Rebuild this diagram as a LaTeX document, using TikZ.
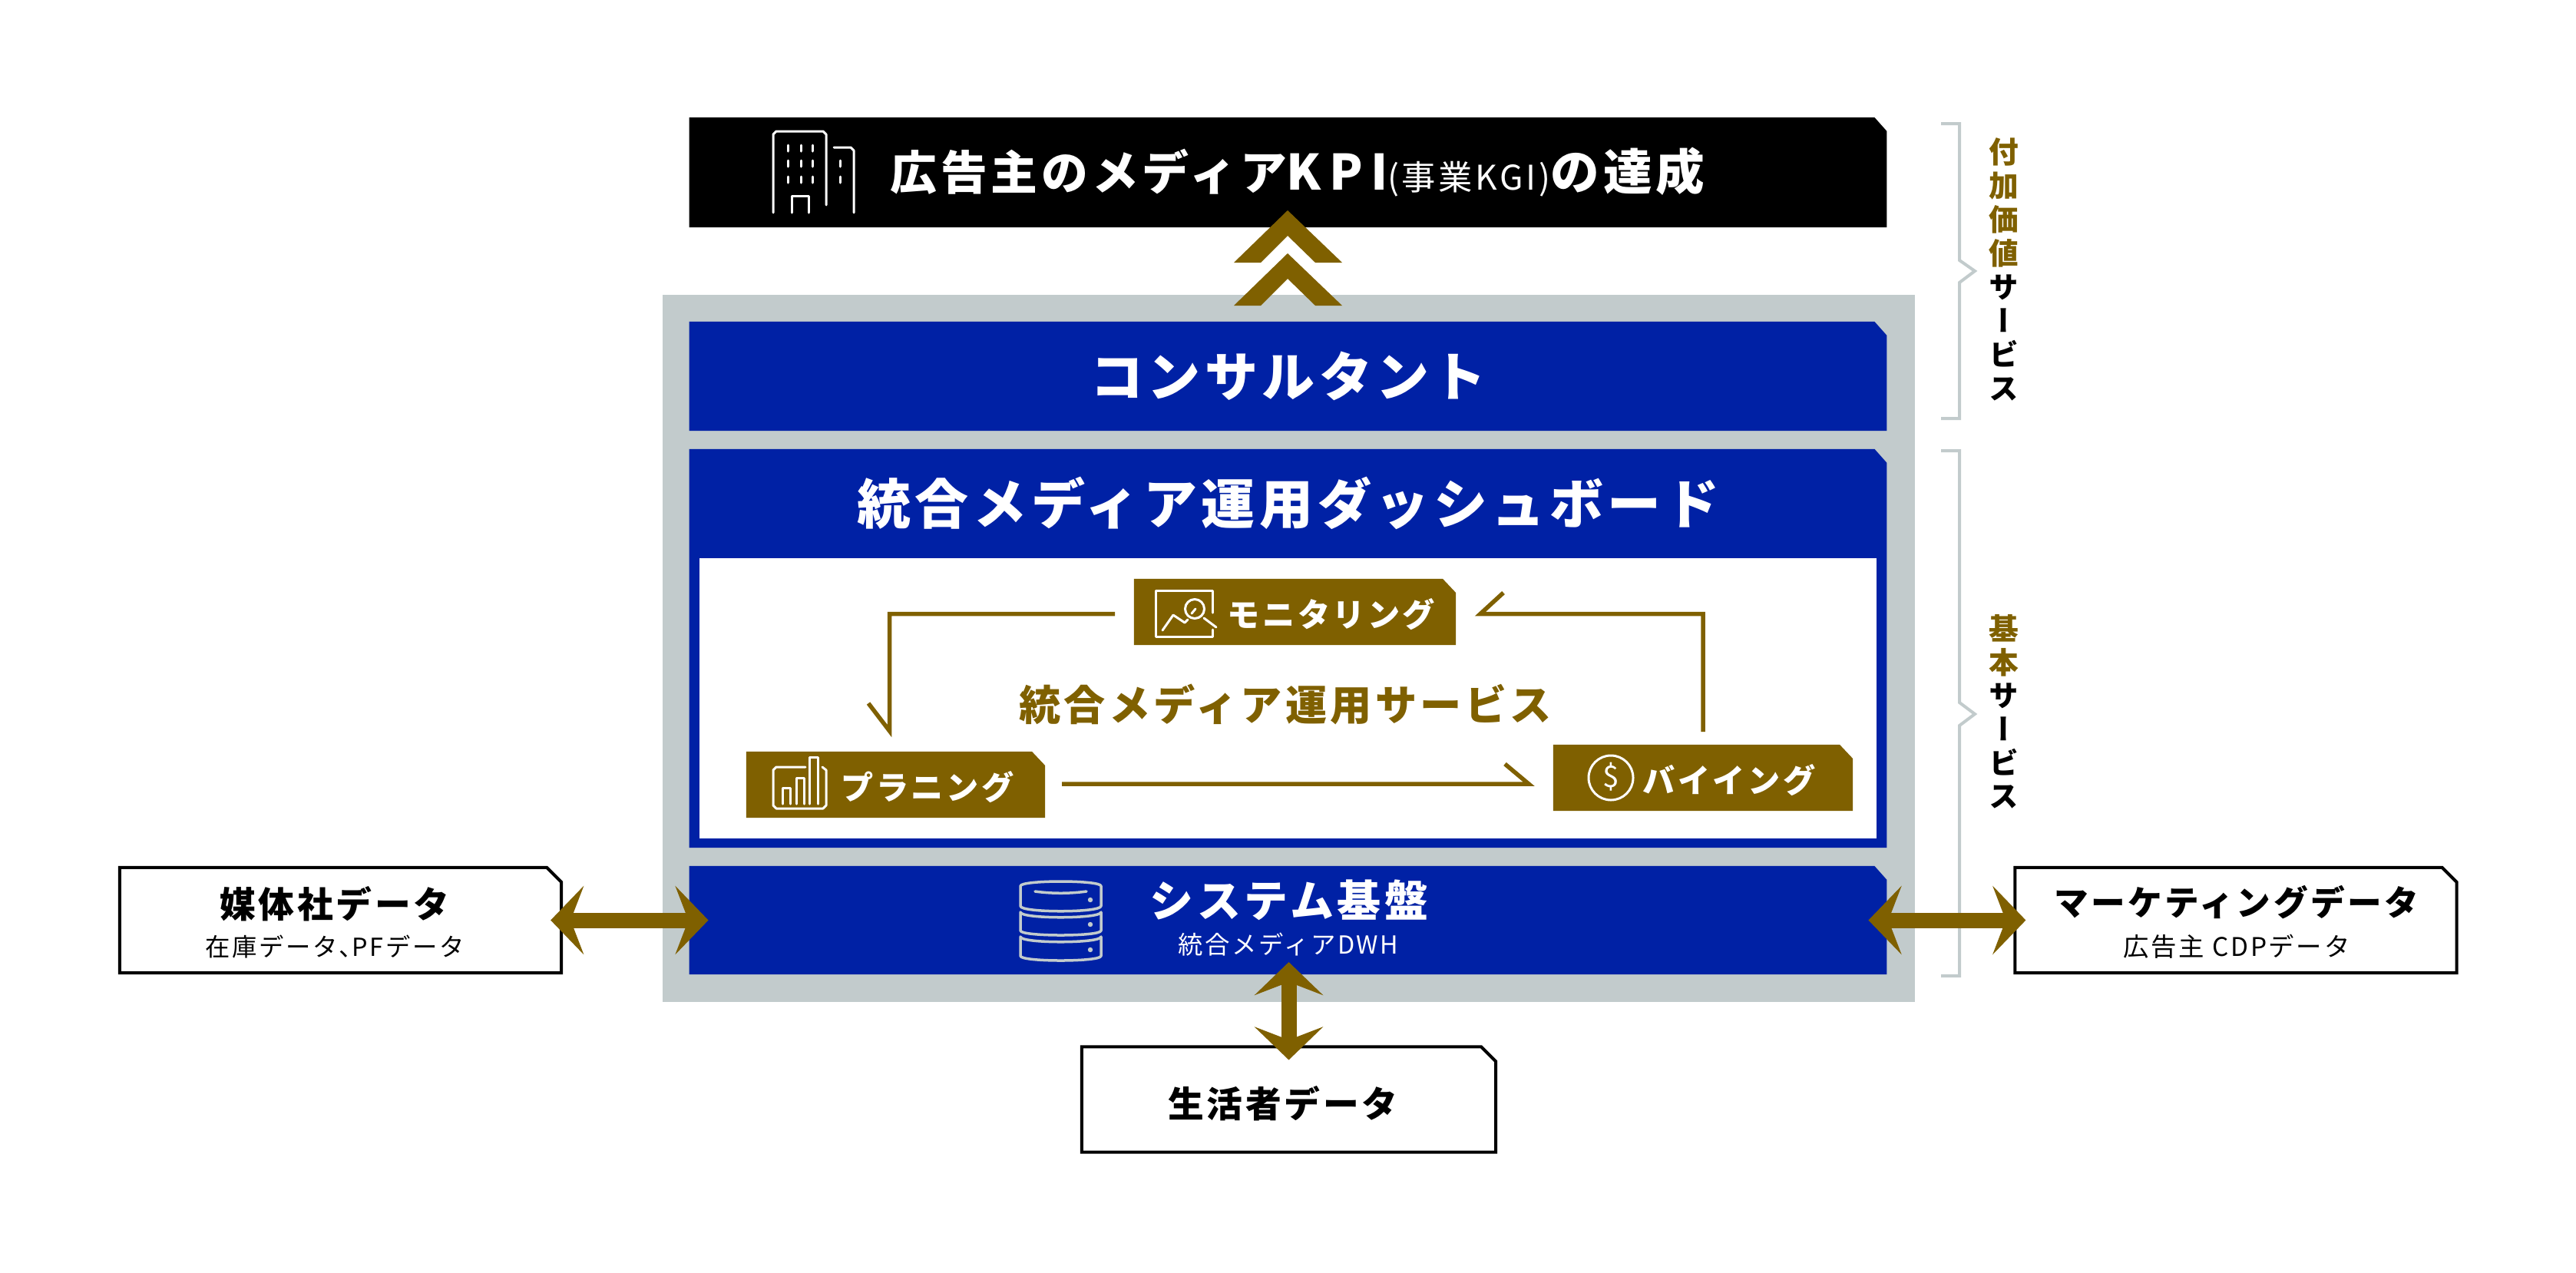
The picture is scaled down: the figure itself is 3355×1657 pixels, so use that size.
\documentclass[tikz,border=0pt]{standalone}
\usepackage{fontspec}
\setmainfont{Noto Sans CJK JP}
\newfontfamily\jpwide[LetterSpace=8]{Noto Sans CJK JP}
\newfontfamily\jpvert[RawFeature=+vert]{Noto Sans CJK JP}
\usetikzlibrary{arrows.meta}
\usetikzlibrary{positioning}
\definecolor{navy}{RGB}{0,33,165}
\definecolor{ochre}{RGB}{127,96,0}
\definecolor{panel}{RGB}{194,203,204}
\tikzset{
	plainbox/.style={rectangle, inner sep=0, outer sep=0},
	cutbox/.style n args={3}{plainbox, append after command={\pgfextra{\edef\cutnode{\tikzlastnode}
		\path[#1] (\cutnode.north west) -- ([xshift=-#2]\cutnode.north east) -- ([yshift=-#3]\cutnode.north east) -- (\cutnode.south east) -- (\cutnode.south west) -- cycle;}}},
	blockbox/.style={cutbox={fill=#1}{.16cm}{.18cm}, minimum width=15.59cm},
	databox/.style={cutbox={draw=black, fill=white, line width=.04cm, line join=miter}{.19cm}{.19cm}, minimum height=1.37cm},
	servicebox/.style={cutbox={fill=ochre}{.17cm}{.18cm}, minimum height=.86cm},
	flowline/.style={draw=ochre, line width=.055cm, line join=miter},
	dataarrow/.style={draw=ochre, line width=.2cm, {Stealth[length=.43cm, width=.89cm, inset=.17cm]}-{Stealth[length=.43cm, width=.89cm, inset=.17cm]}},
	bracket/.style={draw=panel, line width=.04cm, line join=miter},
	icon/.style={draw=white, line width=.03cm, line cap=round, line join=round},
	dbicon/.style={draw=panel, line width=.035cm, line cap=round, line join=round},
	title/.style={text=white, font=\jpwide\bfseries\fontsize{#1}{#1}\selectfont},
	dark/.style={text=black, font=\jpwide\bfseries\fontsize{#1}{#1}\selectfont},
	sub/.style={text=black, font=\jpwide\fontsize{#1}{#1}\selectfont}
}
\begin{document}
\begin{tikzpicture}[x=.01cm, y=-.01cm]
	\useasboundingbox (0, 0) rectangle (3355, 1657);

	% Panels
	\node[plainbox, fill=panel, minimum width=16.3cm, minimum height=9.21cm] (backpanel) at (1678, 844.5) {};
	\node[blockbox=black, minimum height=1.43cm] (goalbox) at (1677.5, 224.5) {};
	\node[blockbox=navy, minimum height=1.42cm] (consultbox) at (1677.5, 490) {};
	\node[blockbox=navy, minimum height=5.19cm] (dashbox) at (1677.5, 844.5) {};
	\node[plainbox, fill=white, minimum width=15.33cm, minimum height=3.65cm] (innerbox) at (1677.5, 909.5) {};
	\node[blockbox=navy, minimum height=1.41cm] (basebox) at (1677.5, 1198.5) {};

	% Services
	\node[servicebox, minimum width=4.19cm] (monitorbox) at (1686.5, 797) {};
	\node[servicebox, minimum width=3.89cm] (planbox) at (1166.5, 1022) {};
	\node[servicebox, minimum width=3.9cm] (buybox) at (2218, 1013) {};

	% Data sources
	\node[databox, minimum width=5.75cm] (mediabox) at (443.5, 1198.5) {};
	\node[databox, minimum width=5.75cm] (marketbox) at (2912, 1198.5) {};
	\node[databox, minimum width=5.39cm] (personbox) at (1678.5, 1432) {};

	% Labels
	\node[title=18.1] (goallabel) at (1690, 224) {{\fontsize{17.3}{17.3}\selectfont 広告主のメディア}K\hspace{.16em}P\hspace{.16em}I{\mdseries\fontsize{12.6}{12.6}\selectfont(事業K\hspace{.08em}G\hspace{.08em}I)}の達成};
	\node[title=19.6] (consultlabel) at (1678, 490) {コンサルタント};
	\node[title=19.9] (dashlabel) at (1678, 655) {統合メディア運用ダッシュボード};
	\node[title=15.4, text=ochre] (servicelabel) at (1674, 917) {統合メディア運用サービス};
	\node[title=12] (monitorlabel) at (1734, 800) {モニタリング};
	\node[title=12] (planlabel) at (1208, 1025) {プラニング};
	\node[title=12] (buylabel) at (2252, 1016) {バイイング};
	\node[title=16.2] (baselabel) at (1679, 1172) {システム基盤};
	\node[sub=9.2, text=white] (basesub) at (1678, 1230) {統合メディアDWH};
	\node[dark=13.3] (medialabel) at (436, 1177) {媒体社データ};
	\node[sub=9.2] (mediasub) at (436, 1233) {在庫データ、\hspace{-.45em}PFデータ};
	\node[dark=12.7] (marketlabel) at (2913, 1175) {マーケティングデータ};
	\node[sub=9.5] (marketsub) at (2913, 1233) {広告主 CDPデータ};
	\node[dark=13.3] (personlabel) at (1671, 1437) {生活者データ};

	% Brackets
	\draw[bracket] (2528, 161) -- (2552, 161) -- (2552, 339) -- (2572, 353) -- (2552, 368) -- (2552, 545) -- (2528, 545);
	\draw[bracket] (2528, 587) -- (2552, 587) -- (2552, 915) -- (2572, 930) -- (2552, 945) -- (2552, 1271) -- (2528, 1271);
	\node[align=center, font=\jpvert\bfseries\fontsize{11}{12.5}\selectfont] (addlabel) at (2610, 351) {\textcolor{ochre}{付}\\\textcolor{ochre}{加}\\\textcolor{ochre}{価}\\\textcolor{ochre}{値}\\サ\\ー\\ビ\\ス};
	\node[align=center, font=\jpvert\bfseries\fontsize{11}{12.4}\selectfont] (corelabel) at (2610, 927) {\textcolor{ochre}{基}\\\textcolor{ochre}{本}\\サ\\ー\\ビ\\ス};

	% Flow
	\coordinate (monitorout) at (1452, 799.5);
	\coordinate (planin) at (1158.5, 952);
	\coordinate (planbarb) at (1131, 916);
	\coordinate (planout) at (1383, 1021);
	\coordinate (buyin) at (1991, 1021);
	\coordinate (buybarb) at (1960, 995);
	\coordinate (buyout) at (2218, 953);
	\coordinate (monitorin) at (1928, 799.5);
	\coordinate (monitorbarb) at (1958, 772);
	\draw[flowline] (monitorout) -| (planin) -- (planbarb);
	\draw[flowline] (planout) -- (buyin) -- (buybarb);
	\draw[flowline] (buyout) |- (monitorin) -- (monitorbarb);

	% Data arrows
	\draw[dataarrow, shorten <=-.14cm, shorten >=-.25cm] (mediabox) -- (basebox);
	\draw[dataarrow, shorten <=-.24cm, shorten >=-.14cm] (basebox) -- (marketbox);
	\draw[dataarrow, shorten <=-.16cm, shorten >=-.17cm] (personbox.north |- basebox.south) -- (personbox.north);

	% Up chevrons
	\foreach \yy in {0, 56}
		\fill[ochre] (1677, 274 + \yy) -- (1748, 342 + \yy) -- (1713, 342 + \yy) -- (1677, 307 + \yy) -- (1642, 342 + \yy) -- (1607, 342 + \yy) -- cycle;

	% Building icon
	\draw[icon] (1007, 277) -- (1007, 175) -- (1011, 171) -- (1072, 171) -- (1076, 175) -- (1076, 267);
	\draw[icon] (1086, 192) -- (1108, 192) -- (1112, 196) -- (1112, 277);
	\draw[icon] (1031, 277) -- (1031, 255) -- (1053, 255) -- (1053, 277);
	\foreach \xx in {1026, 1043, 1058}
		\foreach \yy in {189, 209, 230}
			\draw[icon] (\xx, \yy) -- (\xx, \yy + 8);
	\foreach \yy in {209, 230}
		\draw[icon] (1094, \yy) -- (1094, \yy + 8);

	% Magnifier icon
	\draw[icon] (1579, 820) -- (1579, 829) -- (1505, 829) -- (1505, 769) -- (1579, 769) -- (1579, 798);
	\draw[icon] (1556, 793) circle [radius=12.5];
	\draw[icon] (1552, 799) -- (1557, 793);
	\draw[icon] (1568, 805) -- (1584, 817);
	\draw[icon] (1514, 821) -- (1528, 801) -- (1543, 811) -- (1547, 807);

	% Chart icon
	\draw[icon] (1049, 999) -- (1011, 999) -- (1007, 1003) -- (1007, 1049) -- (1011, 1053) -- (1072, 1053) -- (1076, 1049) -- (1076, 1003) -- (1071, 999);
	\foreach \xa/\xb/\yy in {1019/1029/1026, 1037/1047/1013, 1054/1065/986}
		\draw[icon] (\xa, 1047) -- (\xa, \yy) -- (\xb, \yy) -- (\xb, 1047);

	% Coin icon
	\draw[icon] (2098, 1013) circle [radius=29];
	\node[text=white, font=\fontsize{11}{12}\selectfont] (coinmark) at (2098, 1012) {\$};

	% Database icon
	\draw[dbicon] (1329, 1154) -- (1329, 1180) .. controls (1329, 1189) and (1434, 1189) .. (1434, 1180) -- (1434, 1154) .. controls (1434, 1146) and (1329, 1146) .. cycle;
	\foreach \st/\sb in {1188/1212, 1220/1245}
		\draw[dbicon] (1329, \st) -- (1329, \sb) .. controls (1329, \sb + 8) and (1434, \sb + 8) .. (1434, \sb) -- (1434, \st) .. controls (1434, \st + 9) and (1329, \st + 9) .. cycle;
	\foreach \yy in {1172, 1204, 1237}
		\fill[panel] (1420, \yy) circle [radius=3.2];
	\draw[dbicon] (1348, 1161) .. controls (1370, 1164) and (1393, 1164) .. (1415, 1161);
\end{tikzpicture}
\end{document}
